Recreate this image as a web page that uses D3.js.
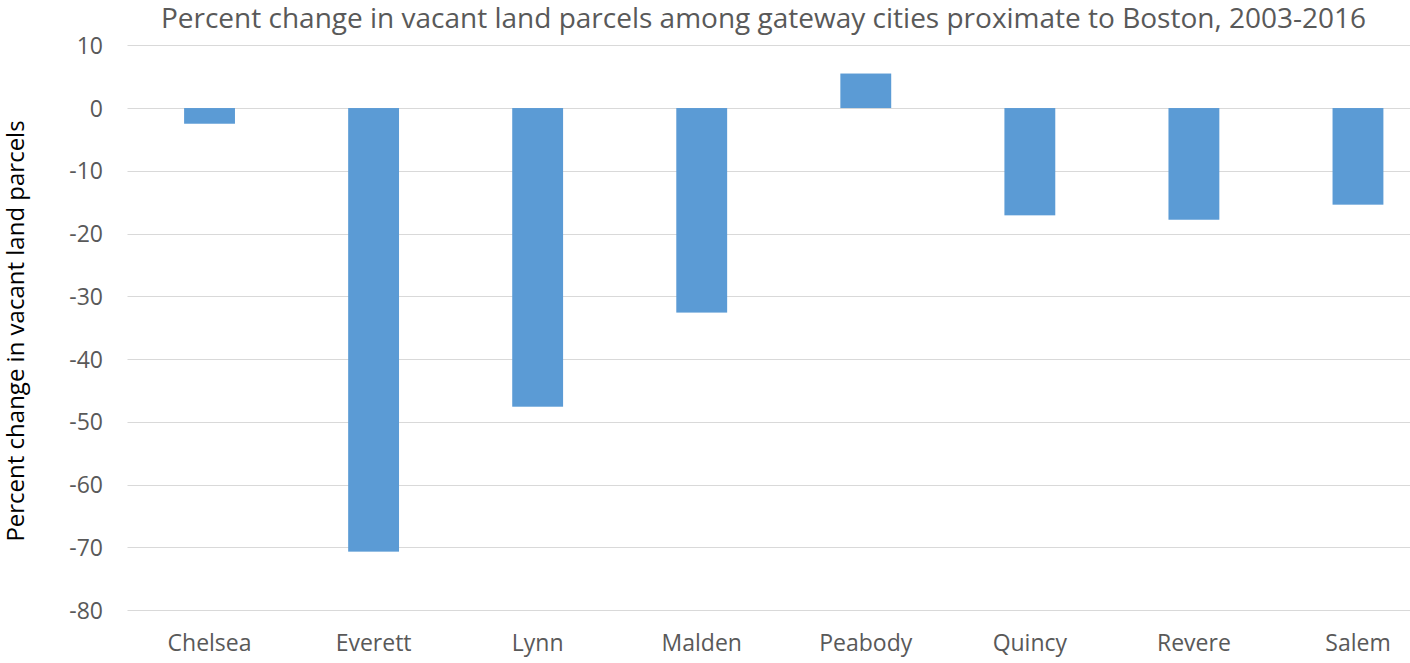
<!DOCTYPE html>
<html>
<head>
<meta charset="utf-8">
<script src="https://cdn.jsdelivr.net/npm/d3@7"></script>
<style>
  body { margin: 0; background: #fff; }
  svg { display: block; font-family: "Open Sans", "Noto Sans", sans-serif; }
</style>
</head>
<body>
<div id="chart"></div>
<script>
// data
var cities = ["Chelsea", "Everett", "Lynn", "Malden", "Peabody", "Quincy", "Revere", "Salem"];
var pctChange = [-2.5, -70.7, -47.6, -32.6, 5.5, -17.1, -17.8, -15.4];
var yTicks = [10, 0, -10, -20, -30, -40, -50, -60, -70, -80];

var width = 1410,
    height = 663;

var svg = d3.select("#chart").append("svg")
    .attr("width", width)
    .attr("height", height);

// the plot runs past the right edge of the picture, like the original
var x = d3.scaleBand()
    .domain(cities)
    .range([127.5, 1440])
    .paddingInner(0.69)
    .paddingOuter(0.345);

var y = d3.scaleLinear()
    .domain([-80, 10])
    .range([610, 45.3]);

// gridlines
svg.append("g")
    .selectAll("line")
    .data(yTicks)
    .join("line")
    .attr("x1", 127.5)
    .attr("x2", width)
    .attr("y1", function(d) { return Math.round(y(d)) + 0.5; })
    .attr("y2", function(d) { return Math.round(y(d)) + 0.5; })
    .attr("stroke", "#d9d9d9")
    .attr("stroke-width", 1);

// bars
svg.append("g")
    .selectAll("rect")
    .data(cities)
    .join("rect")
    .attr("x", function(d) { return x(d); })
    .attr("width", x.bandwidth())
    .attr("y", function(d, i) { return y(Math.max(0, pctChange[i])); })
    .attr("height", function(d, i) { return Math.abs(y(pctChange[i]) - y(0)); })
    .attr("fill", "#5b9bd5");

// y axis labels (plain hyphen, not unicode minus)
var yAxis = d3.axisLeft(y).tickValues(yTicks).tickSize(0).tickPadding(0)
    .tickFormat(function(d) { return String(d); });
var gy = svg.append("g")
    .attr("transform", "translate(103,0)")
    .call(yAxis);
gy.select(".domain").remove();
gy.selectAll("text")
    .attr("fill", "#595959")
    .attr("font-size", 23)
    .attr("dy", "0.35em")
    .attr("font-family", "Open Sans");

// x axis labels
var xAxis = d3.axisBottom(x).tickSize(0).tickPadding(0);
var gx = svg.append("g")
    .attr("transform", "translate(0,635)")
    .call(xAxis);
gx.select(".domain").remove();
gx.selectAll("text")
    .attr("fill", "#595959")
    .attr("font-size", 23)
    .attr("dy", "0.71em")
    .attr("font-family", "Open Sans");

// title
svg.append("text")
    .attr("x", 763.5)
    .attr("y", 28)
    .attr("text-anchor", "middle")
    .attr("fill", "#595959")
    .attr("font-size", 28)
    .text("Percent change in vacant land parcels among gateway cities proximate to Boston, 2003-2016");

// y axis title
svg.append("text")
    .attr("transform", "translate(24,331) rotate(-90)")
    .attr("text-anchor", "middle")
    .attr("fill", "#000")
    .attr("font-size", 24)
    .text("Percent change in vacant land parcels");
</script>
</body>
</html>
